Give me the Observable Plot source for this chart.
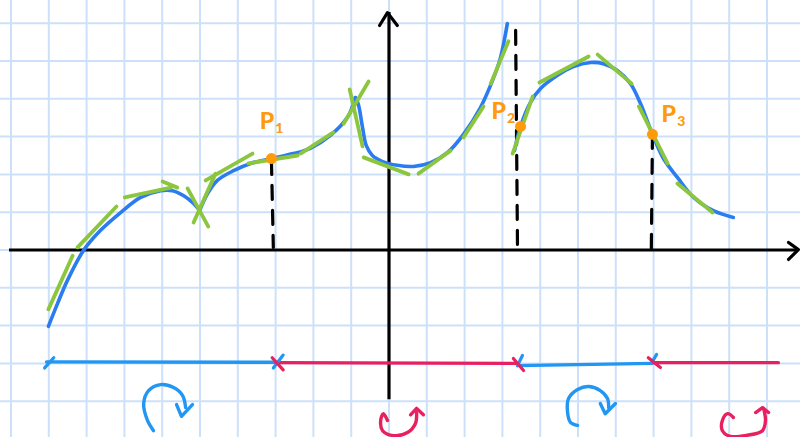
<!DOCTYPE html>
<html>
<head>
<meta charset="utf-8">
<script src="https://cdn.jsdelivr.net/npm/d3@7"></script>
<script src="https://cdn.jsdelivr.net/npm/@observablehq/plot@0.6"></script>
<style>
  html, body { margin: 0; padding: 0; background: #ffffff; }
  #chart svg { display: block; }
</style>
</head>
<body>
<div id="chart"></div>
<script>
// grid positions (one grid square = one unit)
const gridXs = [-10,-9,-8,-7,-6,-5,-4,-3,-2,-1,0,1,2,3,4,5,6,7,8,9,10];
const gridYs = [-5,-4,-3,-2,-1,0,1,2,3,4,5,6];

// blue curve, left branch (split at the two cusps)
const curveA = [[-9.01,-2.02],[-8.77,-1.42],[-8.51,-0.81],[-8.08,-0.01],[-7.63,0.52],[-7.10,0.99],[-6.57,1.39],[-6.04,1.57],[-5.73,1.57],[-5.44,1.44],[-5.17,1.23],[-5.01,1.04]];
const curveB = [[-5.01,1.04],[-4.80,1.49],[-4.54,1.84],[-4.11,2.10],[-3.66,2.29],[-3.11,2.42],[-2.53,2.55],[-2.08,2.69],[-1.55,3.03],[-1.10,3.51],[-0.89,4.03]];
const curveC = [[-0.89,4.03],[-0.81,3.85],[-0.70,3.24],[-0.60,2.76],[-0.44,2.50],[-0.17,2.34],[0.22,2.24],[0.65,2.21],[1.10,2.31],[1.55,2.58],[1.97,3.06],[2.42,3.77],[2.76,4.54],[2.95,5.09],[3.13,5.99]];
// blue curve, right branch
const curveD = [[3.32,2.63],[3.48,3.27],[3.74,3.90],[4.01,4.27],[4.46,4.62],[4.88,4.85],[5.33,4.96],[5.67,4.93],[6.04,4.75],[6.39,4.40],[6.65,3.88],[6.97,3.06],[7.26,2.42],[7.63,1.92],[8.06,1.39],[8.58,1.04],[9.11,0.86]];

// green tangent strokes [x1, y1, x2, y2]
const tangents = [
  [-9.01,-1.57,-8.37,-0.15],
  [-8.24,0.07,-7.21,1.15],
  [-6.99,1.39,-5.77,1.65],
  [-5.99,1.81,-5.60,1.65],
  [-5.33,1.63,-4.78,0.62],
  [-5.17,0.73,-4.59,2.02],
  [-4.85,1.84,-3.61,2.55],
  [-3.72,2.29,-2.42,2.50],
  [-2.34,2.55,-1.47,3.11],
  [-1.20,3.34,-0.54,4.46],
  [-1.04,4.25,-0.70,2.74],
  [-0.67,2.45,0.52,2.00],
  [0.78,2.02,1.63,2.63],
  [1.97,2.98,2.50,3.80],
  [2.69,4.40,3.16,5.52],
  [3.27,2.55,3.80,4.06],
  [3.98,4.43,5.28,5.12],
  [5.52,5.17,6.42,4.40],
  [6.61,3.80,7.37,2.29],
  [7.63,1.76,8.56,0.99]
];

// inflection points
const pointSubscripts = ["1","2","3"];
const pointXs = [-3.11, 3.48, 6.97];
const pointYs = [2.42, 3.27, 3.06];
const labelXs = [-3.23, 2.90, 7.40];
const labelYs = [3.40, 3.66, 3.58];

// dashed drop lines [x1, y1, x2, y2]
const dropLines = [
  [-3.11,2.37,-3.06,0.07],
  [3.35,5.81,3.40,0.02],
  [6.97,3.06,6.94,0.02]
];

// sign chart of concavity [x1, y1, x2, y2]
const concaveDown = [[-9.06,-2.96,-2.98,-2.97],[3.40,-3.06,6.97,-3.00]];
const concaveUp = [[-2.98,-2.98,3.40,-3.00],[6.97,-2.98,10.30,-2.98]];
const blueTicks = [[-9.11,-3.12,-8.87,-2.85],[-3.06,-3.12,-2.80,-2.78],[3.40,-3.06,3.53,-2.79],[6.94,-3.00,7.08,-2.76]];
const redTicks = [[-3.09,-2.85,-2.80,-3.17],[3.29,-2.87,3.56,-3.19],[6.86,-2.85,7.18,-3.11]];

// hand-drawn rotation icons
const iconDown1 = [[-6.23,-4.78],[-6.39,-4.51],[-6.49,-4.06],[-6.36,-3.72],[-6.04,-3.56],[-5.70,-3.64],[-5.46,-3.85],[-5.38,-4.17]];
const iconDown1Head = [[-5.62,-4.09],[-5.49,-4.40],[-5.20,-4.09]];
const iconDown2 = [[4.99,-4.64],[4.80,-4.56],[4.72,-4.25],[4.75,-3.93],[4.99,-3.69],[5.28,-3.61],[5.59,-3.72],[5.78,-3.93],[5.81,-4.17]];
const iconDown2Head = [[5.59,-4.06],[5.72,-4.33],[5.99,-4.06]];
const iconUp1 = [[-0.04,-4.51],[-0.15,-4.33],[-0.22,-4.51],[-0.17,-4.78],[0.12,-4.91],[0.49,-4.83],[0.70,-4.59],[0.73,-4.30]];
const iconUp1Head = [[0.57,-4.36],[0.73,-4.19],[0.91,-4.36]];
const iconUp2 = [[9.11,-4.43],[8.96,-4.33],[8.82,-4.51],[8.82,-4.78],[9.03,-4.93],[9.48,-4.90],[9.88,-4.78],[9.96,-4.51],[9.91,-4.19]];
const iconUp2Head = [[9.70,-4.30],[9.88,-4.17],[10.04,-4.30]];

// axes
const xAxisSpan = [-10.04, 10.80];
const yAxisSpan = [-3.96, 6.28];
const xArrow = [[10.57,0.20],[10.83,0.01],[10.57,-0.25]];
const yArrow = [[-0.25,5.94],[-0.04,6.28],[0.22,5.94]];

const BLUE = "#2a7cf0", GREEN = "#8cc63f", ORANGE = "#ff9a0a", RED = "#e8205f", LBLUE = "#2196f3", GRID = "#cde0fa";
const X = d => d[0], Y = d => d[1];
const seg = {x1: d => d[0], y1: d => d[1], x2: d => d[2], y2: d => d[3]};
const FONT = "Lato, 'DejaVu Sans', sans-serif";

const chart = Plot.plot({
  width: 800,
  height: 437,
  margin: 0,
  x: {domain: [-388.5/37.8, 411.5/37.8], axis: null},
  y: {domain: [-187.5/37.8, 249.5/37.8], axis: null},
  style: {background: "#ffffff"},
  marks: [
    Plot.ruleX(gridXs, {stroke: GRID, strokeWidth: 2}),
    Plot.ruleY(gridYs, {stroke: GRID, strokeWidth: 2}),
    // axes
    Plot.ruleY([0], {x1: xAxisSpan[0], x2: xAxisSpan[1], stroke: "#000", strokeWidth: 3.2}),
    Plot.ruleX([0], {y1: yAxisSpan[0], y2: yAxisSpan[1], stroke: "#000", strokeWidth: 3.2}),
    Plot.line(xArrow, {x: X, y: Y, stroke: "#000", strokeWidth: 3.2, strokeLinecap: "round", strokeLinejoin: "round"}),
    Plot.line(yArrow, {x: X, y: Y, stroke: "#000", strokeWidth: 3.2, strokeLinecap: "round", strokeLinejoin: "round"}),
    // dashed drop lines
    Plot.link(dropLines, {...seg, stroke: "#000", strokeWidth: 3.2, strokeDasharray: "14,11", strokeLinecap: "round"}),
    // curve
    ...[curveA, curveB, curveC, curveD].map(c =>
      Plot.line(c, {x: X, y: Y, stroke: BLUE, strokeWidth: 3.6, curve: "catmull-rom", strokeLinecap: "round"})),
    // tangents
    Plot.link(tangents, {...seg, stroke: GREEN, strokeWidth: 3.8, strokeLinecap: "round"}),
    // inflection points
    Plot.dot(pointXs, {x: d => d, y: (d, i) => pointYs[i], r: 5.5, fill: ORANGE, stroke: "none"}),
    Plot.text(pointSubscripts, {x: (d, i) => labelXs[i], y: (d, i) => labelYs[i], text: () => "P", fill: ORANGE, fontSize: 23, fontWeight: 900, fontFamily: FONT}),
    Plot.text(pointSubscripts, {x: (d, i) => labelXs[i], y: (d, i) => labelYs[i], text: d => d, dx: 12.5, dy: 7, fill: ORANGE, fontSize: 14, fontWeight: 900, fontFamily: FONT}),
    // sign chart
    Plot.link(concaveDown, {...seg, stroke: LBLUE, strokeWidth: 3.4, strokeLinecap: "round"}),
    Plot.link(concaveUp, {...seg, stroke: RED, strokeWidth: 3.4, strokeLinecap: "round"}),
    Plot.link(blueTicks, {...seg, stroke: LBLUE, strokeWidth: 3.2, strokeLinecap: "round"}),
    Plot.link(redTicks, {...seg, stroke: RED, strokeWidth: 3.2, strokeLinecap: "round"}),
    // icons
    ...[iconDown1, iconDown2].map(c => Plot.line(c, {x: X, y: Y, stroke: LBLUE, strokeWidth: 3.4, curve: "catmull-rom", strokeLinecap: "round"})),
    ...[iconDown1Head, iconDown2Head].map(c => Plot.line(c, {x: X, y: Y, stroke: LBLUE, strokeWidth: 3.4, strokeLinecap: "round", strokeLinejoin: "round"})),
    ...[iconUp1, iconUp2].map(c => Plot.line(c, {x: X, y: Y, stroke: RED, strokeWidth: 3.4, curve: "catmull-rom", strokeLinecap: "round"})),
    ...[iconUp1Head, iconUp2Head].map(c => Plot.line(c, {x: X, y: Y, stroke: RED, strokeWidth: 3.4, strokeLinecap: "round", strokeLinejoin: "round"}))
  ]
});
document.getElementById("chart").append(chart);
</script>
</body>
</html>
